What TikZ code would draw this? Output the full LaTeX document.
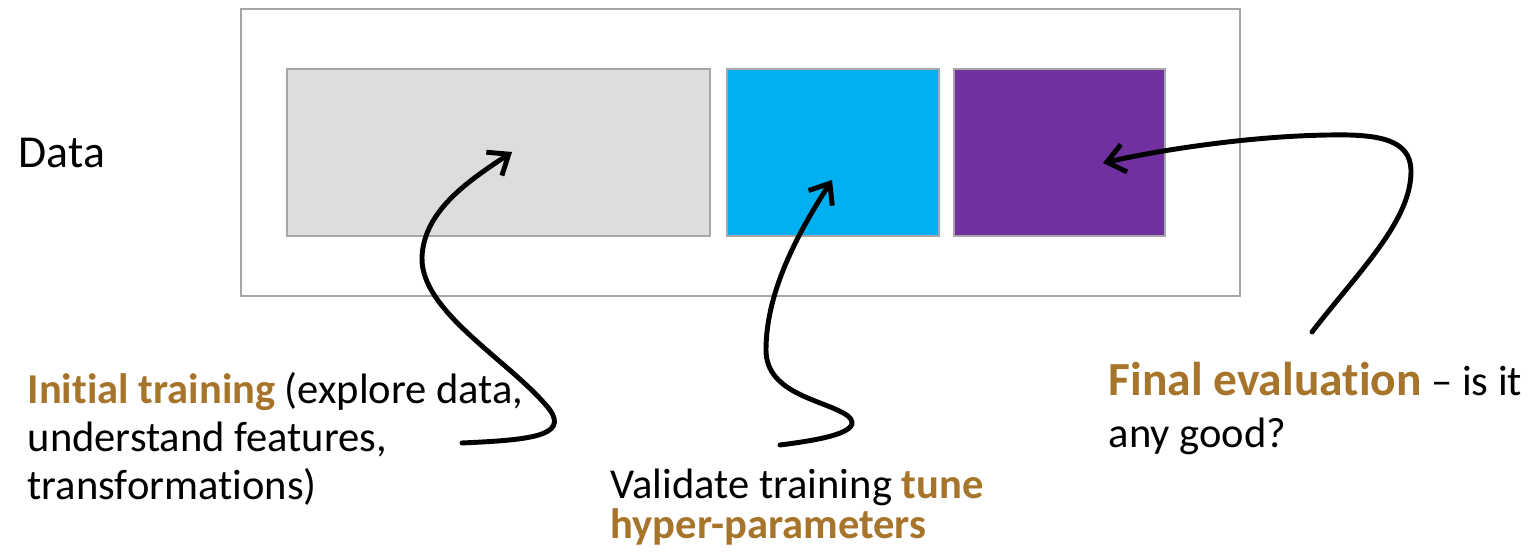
\documentclass[tikz,border=0pt]{standalone}
\usepackage{fontspec}
\setmainfont{Carlito}[Ligatures={TeX,NoCommon,NoContextual}, RawFeature={-liga;-clig;-calt}]
\usepackage{xcolor}
\usepackage{tikz}
\usetikzlibrary{arrows.meta, positioning}
\definecolor{frame}{HTML}{A6A6A6}
\definecolor{trainfill}{HTML}{DDDDDD}
\definecolor{validfill}{HTML}{00B0F0}
\definecolor{testfill}{HTML}{7030A0}
\definecolor{accent}{HTML}{A6742A}
\newcommand{\keyword}[1]{\textbf{\textcolor{accent}{#1}}}
\tikzstyle{part} = [rectangle, draw=frame, line width=0.6pt, minimum height=1.67cm, anchor=north west, inner sep=0pt]
\tikzstyle{flow} = [draw, line width=1.4pt, line cap=round, -{Straight Barb[length=5pt, width=8pt, line width=1.4pt]}]
\tikzstyle{label} = [inner sep=0pt, align=left, anchor=base west, font=\fontsize{12.1}{13.7}\selectfont]

\begin{document}
\begin{tikzpicture}[x=0.01cm, y=-0.01cm]
    \useasboundingbox (0,0) rectangle (1532,559);
    % Data split
    \node [part, minimum width=9.98cm, minimum height=2.87cm] (data) at (240,8) {};
    \node [part, fill=trainfill, minimum width=4.23cm] (train) at (286,68) {};
    \node [part, fill=validfill, minimum width=2.12cm] (valid) at (726,68) {};
    \node [part, fill=testfill, minimum width=2.11cm] (test) at (953,68) {};
    \node [label, font=\fontsize{13}{14}\selectfont] (datatext) at (18,168) {Data};

    % Descriptions (anchored at the last baseline)
    \node [label] (traintext) at (27,500) {\keyword{Initial training} (explore data,\\understand features,\\transformations)};
    \node [label, font=\fontsize{12.1}{11.4}\selectfont] (validtext) at (610,539) {Validate training \keyword{tune}\\\keyword{hyper-parameters}};
    \node [label, font=\fontsize{12.1}{14.8}\selectfont] (testtext) at (1108,448) {{\fontsize{13.5}{14.8}\selectfont\keyword{Final evaluation}} -- is it\\any good?};

    % Arrow ends
    \coordinate (trainfrom) at (462,443);
    \coordinate (trainto) at (512,152);
    \coordinate (validfrom) at (780,445);
    \coordinate (validto) at (832,180);
    \coordinate (testfrom) at (1312,332);
    \coordinate (testto) at (1103,163);

    % Arrows
    \path [flow] (trainfrom) .. controls (530,440) and (568,436) .. (550,410)
        .. controls (512,362) and (420,312) .. (422,257)
        .. controls (424,210) and (470,180) .. (trainto);
    \path [flow] (validfrom) .. controls (820,440) and (866,432) .. (848,416)
        .. controls (826,400) and (766,395) .. (766,350)
        .. controls (766,290) and (800,230) .. (validto);
    \path [flow] (testfrom) .. controls (1360,270) and (1412,220) .. (1411,170)
        .. controls (1410,140) and (1380,134) .. (1330,135)
        .. controls (1250,136) and (1160,150) .. (testto);
\end{tikzpicture}
\end{document}
